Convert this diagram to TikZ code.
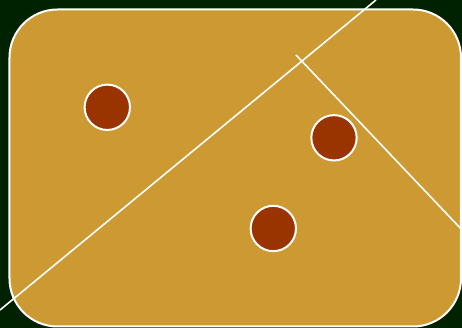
\documentclass[tikz,border=0pt]{standalone}
\usepackage{tikz}

\definecolor{bgdark}{RGB}{0,34,0}
\definecolor{fieldtan}{RGB}{204,153,51}
\definecolor{spotred}{RGB}{153,51,0}

\tikzset{every picture/.style={line width=0.75pt}}
\tikzset{
  spot/.style={circle, draw=white, fill=spotred, line width=1.5pt, minimum size=34pt, inner sep=0pt},
  cut/.style={draw=white, line width=1.2pt}
}

\begin{document}
\begin{tikzpicture}[x=0.75pt,y=0.75pt,yscale=-1,xscale=1]
				% background
				\fill [bgdark] (0,0) rectangle (462,328);
				\useasboundingbox (0,0) rectangle (462,328);
				
				%Rounded Rect
				\draw [draw=white, fill=fieldtan, line width=1.5pt, rounded corners=36pt] (9.5,9.5) rectangle (461,326.5);
				
				%Straight Lines
				\coordinate (c1a) at (0,310);
				\coordinate (c1b) at (376,0);
				\coordinate (c2a) at (296,55);
				\coordinate (c2b) at (463,231);
				\draw [cut] (c1a) -- (c1b);
				\draw [cut] (c2a) -- (c2b);
				
				% Spots
				\node [spot] (s1) at (107.3,107.3) {};
				\node [spot] (s2) at (334,137.8) {};
				\node [spot] (s3) at (273.3,228.5) {};
				
\end{tikzpicture}
\end{document}
